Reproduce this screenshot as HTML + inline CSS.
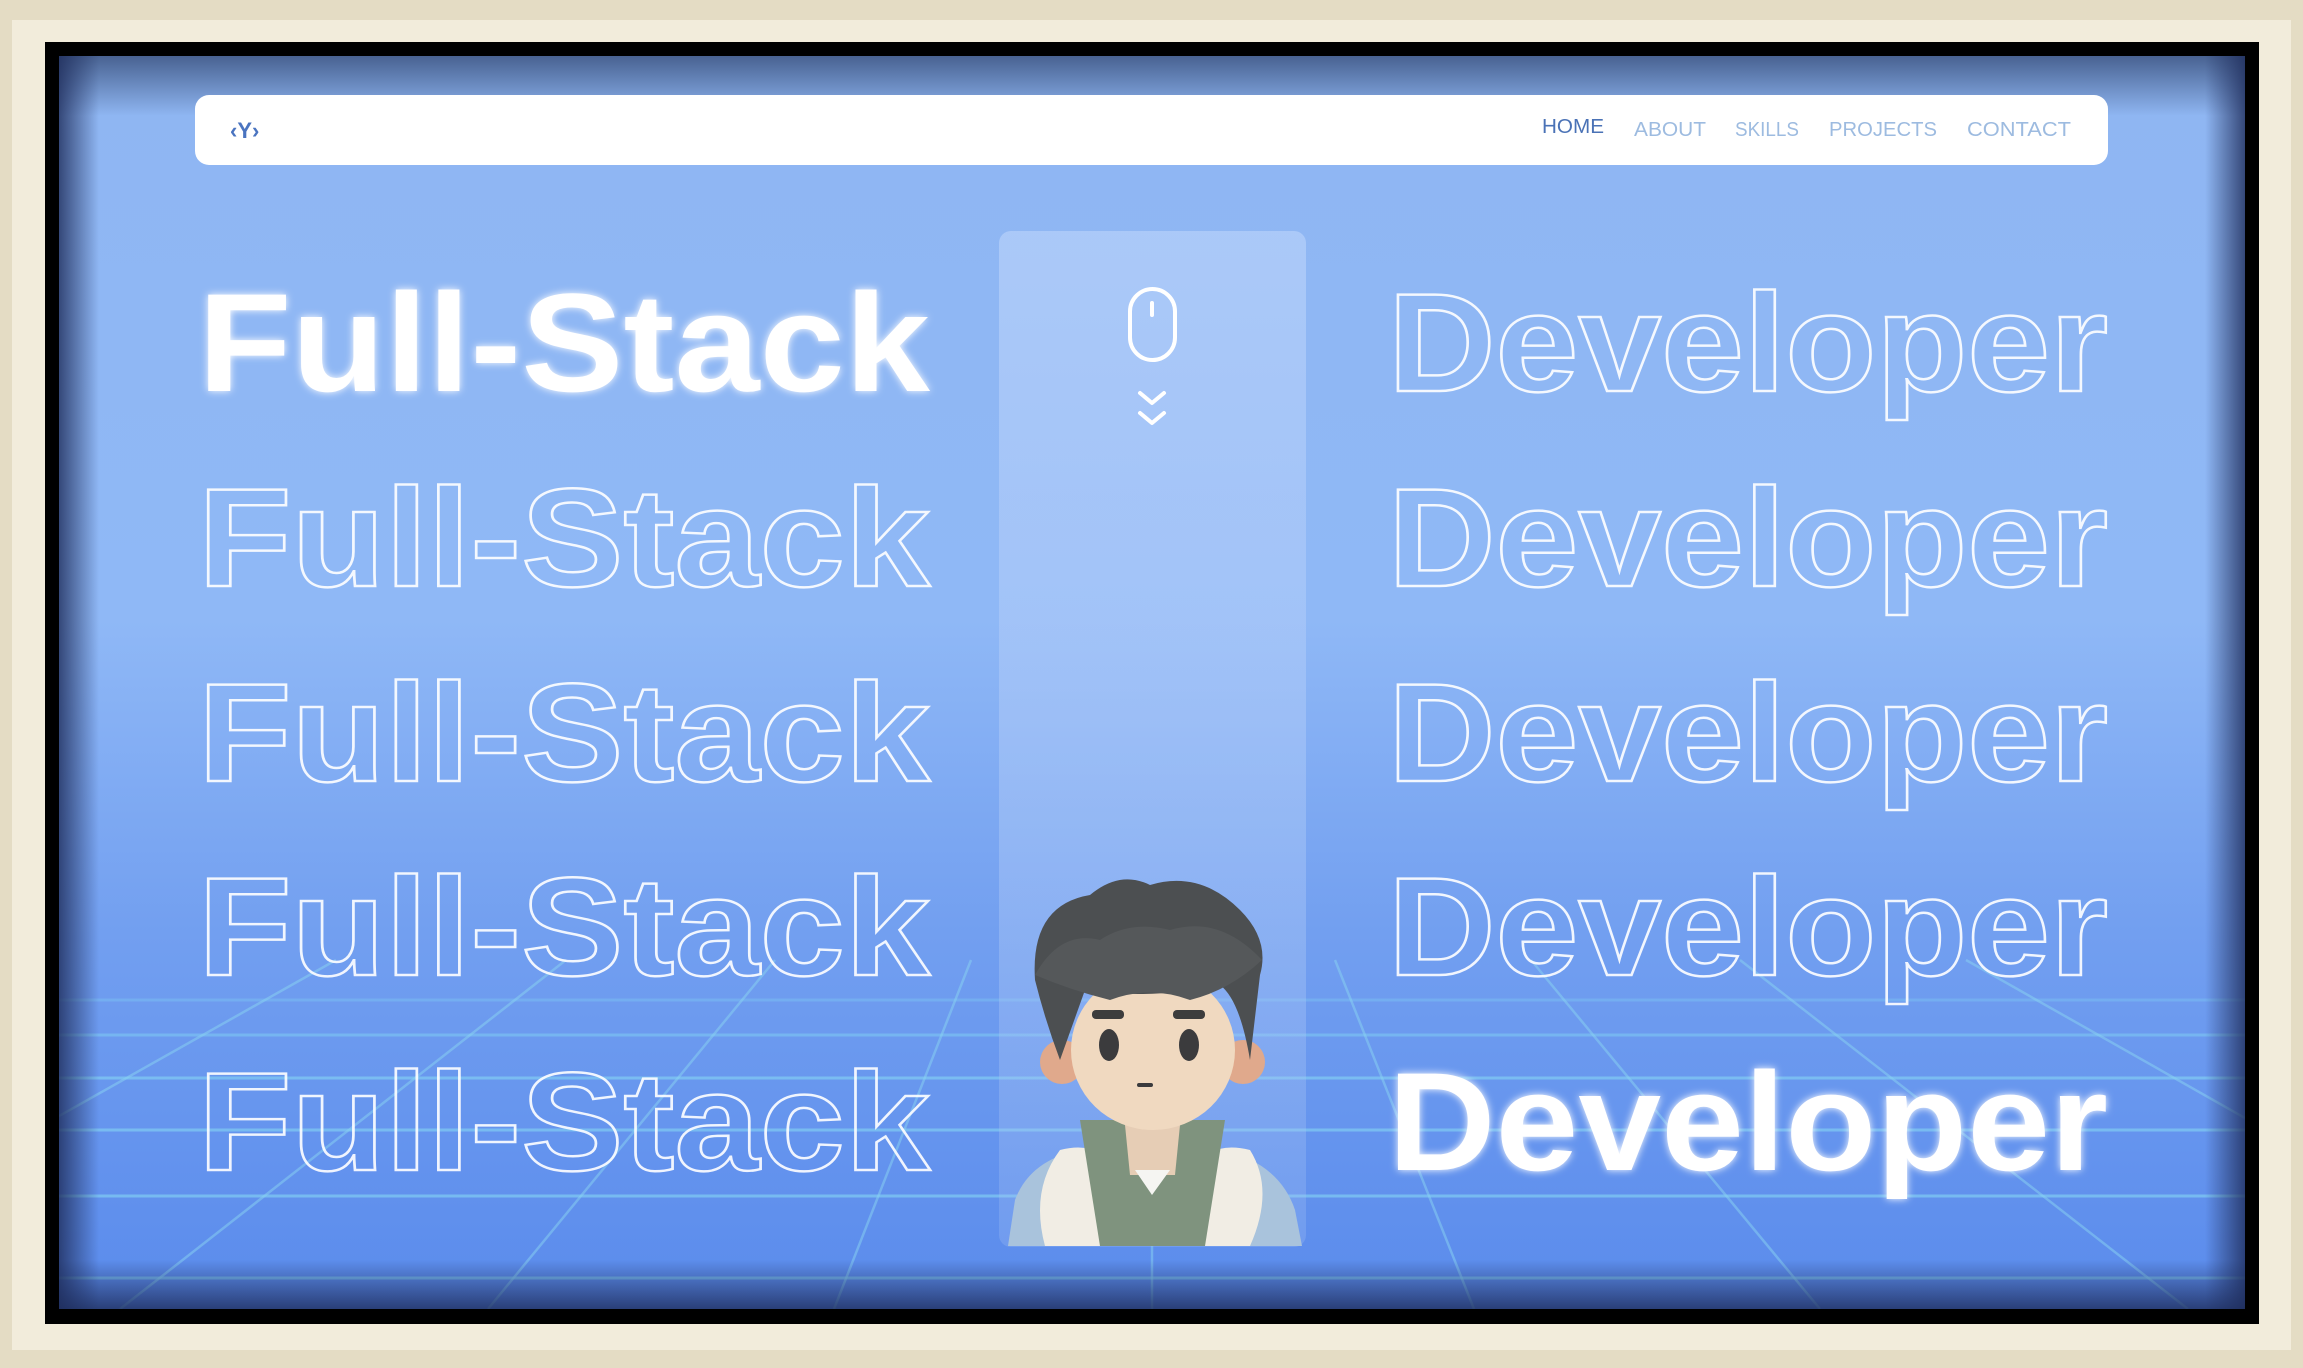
<!DOCTYPE html>
<html><head><meta charset="utf-8"><style>
html,body{margin:0;padding:0;width:2303px;height:1368px;overflow:hidden;background:#e4dbc3;}
svg{display:block}
</style></head><body>
<svg width="2303" height="1368" viewBox="0 0 2303 1368" xmlns="http://www.w3.org/2000/svg" font-family="Liberation Sans, sans-serif" style="position:absolute;left:0;top:0">
<defs>
<linearGradient id="bg" x1="0" y1="0" x2="0" y2="1">
<stop offset="0" stop-color="#8fb6f2"/>
<stop offset="0.45" stop-color="#8fb8f6"/>
<stop offset="0.7" stop-color="#729ff0"/>
<stop offset="1" stop-color="#5a8bec"/>
</linearGradient>
<linearGradient id="topsh" x1="0" y1="0" x2="0" y2="1">
<stop offset="0" stop-color="#2a3e68" stop-opacity="0.7"/>
<stop offset="1" stop-color="#2a3e68" stop-opacity="0"/>
</linearGradient>
<linearGradient id="botsh" x1="0" y1="1" x2="0" y2="0">
<stop offset="0" stop-color="#1e2c5a" stop-opacity="0.8"/>
<stop offset="1" stop-color="#1e2c5a" stop-opacity="0"/>
</linearGradient>
<linearGradient id="lsh" x1="0" y1="0" x2="1" y2="0">
<stop offset="0" stop-color="#1e2c5a" stop-opacity="0.8"/>
<stop offset="1" stop-color="#1e2c5a" stop-opacity="0"/>
</linearGradient>
<linearGradient id="rsh" x1="1" y1="0" x2="0" y2="0">
<stop offset="0" stop-color="#1e2c5a" stop-opacity="0.8"/>
<stop offset="1" stop-color="#1e2c5a" stop-opacity="0"/>
</linearGradient>
<linearGradient id="panel" x1="0" y1="0" x2="0" y2="1">
<stop offset="0" stop-color="#b4cffa" stop-opacity="0.75"/>
<stop offset="0.5" stop-color="#b0cbf8" stop-opacity="0.5"/>
<stop offset="1" stop-color="#a8c4f4" stop-opacity="0.25"/>
</linearGradient>
<filter id="glow" x="-10%" y="-20%" width="120%" height="140%"><feGaussianBlur stdDeviation="4" result="b"/><feMerge><feMergeNode in="b"/><feMergeNode in="SourceGraphic"/></feMerge></filter>
<clipPath id="inner"><rect x="59" y="56" width="2186" height="1253"/></clipPath>
</defs>
<rect x="0" y="0" width="2303" height="1368" fill="#e4dcc4"/>
<rect x="12" y="20" width="2279" height="1330" fill="#f2ecdb"/>
<rect x="45" y="42" width="2214" height="1282" fill="#000"/>
<g clip-path="url(#inner)">
<rect x="59" y="56" width="2186" height="1253" fill="url(#bg)"/>
<g stroke="#86d6f4" stroke-width="3" fill="none">
<line x1="59" y1="1000" x2="2245" y2="1000" stroke-opacity="0.3"/>
<line x1="59" y1="1035" x2="2245" y2="1035" stroke-opacity="0.45"/>
<line x1="59" y1="1078" x2="2245" y2="1078" stroke-opacity="0.6"/>
<line x1="59" y1="1130" x2="2245" y2="1130" stroke-opacity="0.6"/>
<line x1="59" y1="1196" x2="2245" y2="1196" stroke-opacity="0.6"/>
<line x1="59" y1="1278" x2="2245" y2="1278" stroke-opacity="0.6"/>
</g>
<g stroke="#8ad4f2" stroke-opacity="0.5" stroke-width="2.5" fill="none">
<line x1="336" y1="960" x2="59" y2="1116"/>
<line x1="566" y1="960" x2="120" y2="1309"/>
<line x1="775" y1="960" x2="488" y2="1309"/>
<line x1="971" y1="960" x2="834" y2="1309"/>
<line x1="1152" y1="960" x2="1152" y2="1309"/>
<line x1="1335" y1="960" x2="1474" y2="1309"/>
<line x1="1531" y1="960" x2="1820" y2="1309"/>
<line x1="1740" y1="960" x2="2188" y2="1309"/>
<line x1="1966" y1="960" x2="2245" y2="1118"/>
</g>
<rect x="59" y="56" width="2186" height="60" fill="url(#topsh)"/>
<rect x="59" y="1260" width="2186" height="49" fill="url(#botsh)"/>
<rect x="59" y="56" width="40" height="1253" fill="url(#lsh)"/>
<rect x="2205" y="56" width="40" height="1253" fill="url(#rsh)"/>
</g>
<rect x="195" y="95" width="1913" height="70" rx="14" fill="#ffffff"/>
<text x="230" y="138" font-size="22" font-weight="bold" fill="#4a74c0">‹Y›</text>
<g font-size="20" fill="#9dbbe0">
<text x="1542" y="133" fill="#4a72b6" textLength="62" lengthAdjust="spacingAndGlyphs">HOME</text>
<text x="1634" y="136" textLength="72" lengthAdjust="spacingAndGlyphs">ABOUT</text>
<text x="1735" y="136" textLength="64" lengthAdjust="spacingAndGlyphs">SKILLS</text>
<text x="1829" y="136" textLength="108" lengthAdjust="spacingAndGlyphs">PROJECTS</text>
<text x="1967" y="136" textLength="104" lengthAdjust="spacingAndGlyphs">CONTACT</text>
</g>
<rect x="999" y="231" width="307" height="1016" rx="12" fill="url(#panel)"/>
<rect x="1130" y="289" width="45" height="71" rx="22.5" fill="none" stroke="#fff" stroke-width="4"/>
<line x1="1152" y1="303" x2="1152" y2="315" stroke="#fff" stroke-width="4" stroke-linecap="round"/>
<polyline points="1140,393 1152,403 1164,393" fill="none" stroke="#fff" stroke-width="4" stroke-linecap="round" stroke-linejoin="round"/>
<polyline points="1140,413 1152,423 1164,413" fill="none" stroke="#fff" stroke-width="4" stroke-linecap="round" stroke-linejoin="round"/>
<g font-weight="bold" font-size="140">
<text x="198" y="391" fill="#fff" filter="url(#glow)" textLength="732" lengthAdjust="spacingAndGlyphs">Full-Stack</text>
<g fill="none" stroke="#fff" stroke-width="2.5" stroke-opacity="0.9">
<text x="198" y="586" textLength="732" lengthAdjust="spacingAndGlyphs">Full-Stack</text>
<text x="198" y="781" textLength="732" lengthAdjust="spacingAndGlyphs">Full-Stack</text>
<text x="198" y="975" textLength="732" lengthAdjust="spacingAndGlyphs">Full-Stack</text>
<text x="198" y="1170" textLength="732" lengthAdjust="spacingAndGlyphs">Full-Stack</text>
<text x="1388" y="391" textLength="720" lengthAdjust="spacingAndGlyphs">Developer</text>
<text x="1388" y="586" textLength="720" lengthAdjust="spacingAndGlyphs">Developer</text>
<text x="1388" y="781" textLength="720" lengthAdjust="spacingAndGlyphs">Developer</text>
<text x="1388" y="975" textLength="720" lengthAdjust="spacingAndGlyphs">Developer</text>
</g>
<text x="1388" y="1170" fill="#fff" filter="url(#glow)" textLength="720" lengthAdjust="spacingAndGlyphs">Developer</text>
</g>
<g>
<path d="M1008,1246 L1015,1200 Q1030,1160 1080,1150 L1225,1150 Q1280,1165 1295,1210 L1302,1246 Z" fill="#a9c3dc"/>
<path d="M1045,1246 Q1030,1190 1060,1150 Q1100,1140 1110,1170 Q1095,1210 1110,1246 Z" fill="#f1ede4"/>
<path d="M1250,1246 Q1275,1190 1250,1150 Q1210,1140 1195,1170 Q1215,1210 1200,1246 Z" fill="#f1ede4"/>
<path d="M1080,1120 L1225,1120 L1205,1246 L1100,1246 Z" fill="#7f937e"/>
<path d="M1125,1125 L1180,1125 L1175,1175 L1130,1175 Z" fill="#e6cdb5"/>
<path d="M1135,1170 L1170,1170 L1152,1195 Z" fill="#f5f5f2"/>
<circle cx="1062" cy="1062" r="22" fill="#e0a98c"/>
<circle cx="1243" cy="1062" r="22" fill="#e0a98c"/>
<ellipse cx="1153" cy="1050" rx="82" ry="80" fill="#f0d9c0"/>
<path d="M1035,980 Q1030,905 1090,895 Q1120,870 1150,885 Q1200,870 1240,910 Q1270,940 1260,975 L1250,1060 Q1240,1000 1220,985 Q1150,1000 1085,990 L1060,1060 Q1045,1020 1035,980 Z" fill="#4c4f51"/>
<path d="M1035,975 Q1060,930 1100,940 Q1130,920 1170,930 Q1220,915 1262,960 Q1230,990 1190,1000 Q1150,985 1110,1000 Q1070,990 1035,975 Z" fill="#55585a"/>
<rect x="1092" y="1010" width="32" height="9" rx="4" fill="#3d3d3d"/>
<rect x="1173" y="1010" width="32" height="9" rx="4" fill="#3d3d3d"/>
<ellipse cx="1109" cy="1045" rx="10" ry="16" fill="#3b3b3d"/>
<ellipse cx="1189" cy="1045" rx="10" ry="16" fill="#3b3b3d"/>
<rect x="1137" y="1083" width="16" height="4" rx="2" fill="#3b3b3d"/>
</g>
</svg>
</body></html>
